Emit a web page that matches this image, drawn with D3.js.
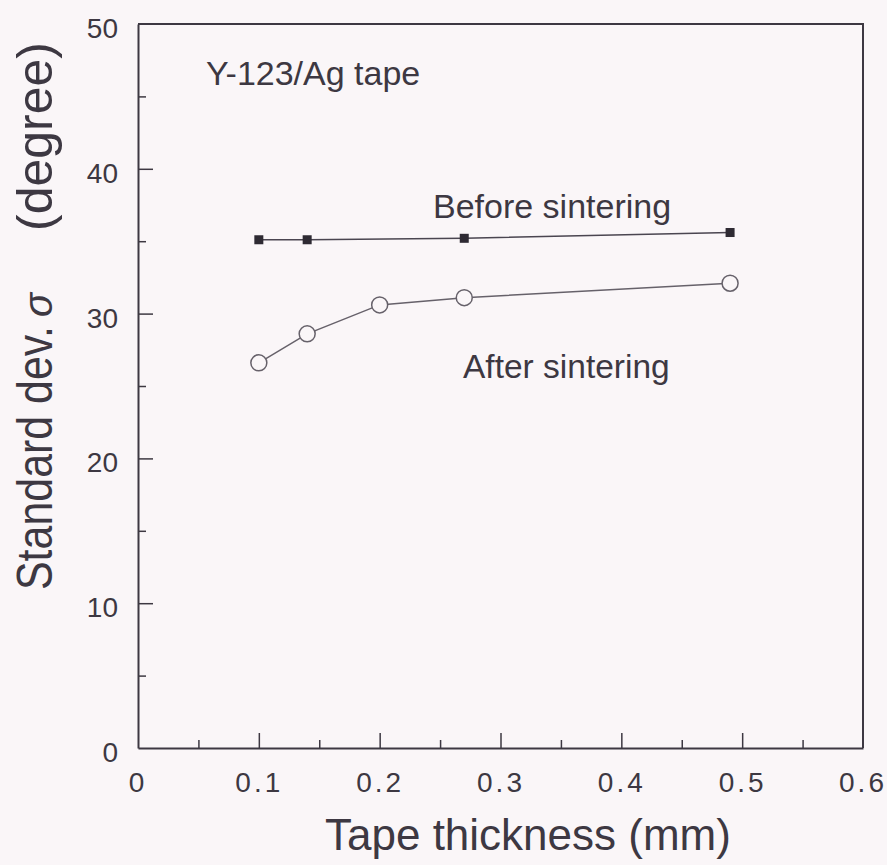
<!DOCTYPE html>
<html>
<head>
<meta charset="utf-8">
<script src="https://cdn.jsdelivr.net/npm/d3@7/dist/d3.min.js"></script>
<style>
  html, body { margin: 0; padding: 0; background: #faf6f8; }
  svg { display: block; font-family: "Liberation Sans", Arial, Helvetica, sans-serif; }
</style>
</head>
<body>
<div id="chart"></div>
<script>
  // ── Data ──────────────────────────────────────────────────────────────────
  const X_TICKS = [0, 0.1, 0.2, 0.3, 0.4, 0.5, 0.6];
  const Y_TICKS = [0, 10, 20, 30, 40, 50];

  const BEFORE_THICKNESS = [0.1, 0.14, 0.27, 0.49];
  const BEFORE_SIGMA     = [35.1, 35.1, 35.2, 35.6];

  const AFTER_THICKNESS  = [0.1, 0.14, 0.2, 0.27, 0.49];
  const AFTER_SIGMA      = [26.6, 28.6, 30.6, 31.1, 32.1];

  // ── Layout ────────────────────────────────────────────────────────────────
  const W = 887, H = 865;
  const M = { left: 138, top: 24, right: 24, bottom: 117 };
  const INK = '#3d3842';

  const svg = d3.select('#chart').append('svg')
    .attr('width', W).attr('height', H);

  const x = d3.scaleLinear().domain([0, 0.6]).range([M.left, W - M.right]);
  const y = d3.scaleLinear().domain([0, 50]).range([H - M.bottom, M.top]);

  // frame (top + right)
  svg.append('path')
    .attr('d', 'M' + x(0) + ',' + y(50) + 'H' + x(0.6) + 'V' + y(0))
    .attr('fill', 'none').attr('stroke', INK).attr('stroke-width', 2);

  // minor ticks
  svg.append('g')
    .attr('transform', 'translate(0,' + y(0) + ')')
    .call(d3.axisBottom(x).tickValues(d3.range(0.05, 0.6, 0.1)).tickSize(-8).tickFormat(''))
    .call(g => g.select('.domain').remove());
  svg.append('g')
    .attr('transform', 'translate(' + x(0) + ',0)')
    .call(d3.axisLeft(y).tickValues(d3.range(5, 50, 10)).tickSize(-8).tickFormat(''))
    .call(g => g.select('.domain').remove());

  // x axis
  const xAxis = svg.append('g')
    .attr('transform', 'translate(0,' + y(0) + ')')
    .call(d3.axisBottom(x).tickValues(X_TICKS.slice(1, -1)).tickSize(-15).tickSizeOuter(0)
      .tickPadding(24).tickFormat(d3.format('.1f')));
  // "0" and "0.6" labels without inner tick marks
  xAxis.selectAll('.tickx-extra')
    .data([X_TICKS[0], X_TICKS[X_TICKS.length - 1]])
    .join('text')
    .attr('x', d => x(d)).attr('y', 24).attr('dy', '0.71em')
    .attr('text-anchor', 'middle')
    .text(d => d === 0 ? '0' : d3.format('.1f')(d));
  xAxis.selectAll('text')
    .attr('font-size', 28).attr('fill', INK)
    .attr('font-family', '"Liberation Sans", Arial, sans-serif')
    .style('letter-spacing', '3px');

  // y axis
  const yAxis = svg.append('g')
    .attr('transform', 'translate(' + x(0) + ',0)')
    .call(d3.axisLeft(y).tickValues(Y_TICKS).tickSize(-15).tickSizeOuter(0).tickPadding(20));
  yAxis.selectAll('.tick').filter(d => d === 0 || d === 50).select('line').remove();
  yAxis.selectAll('text')
    .attr('font-size', 28).attr('fill', INK).attr('dy', '0.48em')
    .attr('font-family', '"Liberation Sans", Arial, sans-serif');

  svg.selectAll('.domain').attr('stroke', INK).attr('stroke-width', 2);
  svg.selectAll('.tick line').attr('stroke', INK).attr('stroke-width', 1.5);

  // ── Series ────────────────────────────────────────────────────────────────
  const line = d3.line().x(d => x(d[0])).y(d => y(d[1]));
  const before = BEFORE_THICKNESS.map((t, i) => [t, BEFORE_SIGMA[i]]);
  const after  = AFTER_THICKNESS.map((t, i) => [t, AFTER_SIGMA[i]]);

  svg.append('path').datum(before).attr('d', line)
    .attr('fill', 'none').attr('stroke', '#4a4550').attr('stroke-width', 1.5);
  svg.append('g').selectAll('rect').data(before).join('rect')
    .attr('x', d => x(d[0]) - 4.5).attr('y', d => y(d[1]) - 4.5)
    .attr('width', 9).attr('height', 9).attr('fill', '#2e2a33');

  svg.append('path').datum(after).attr('d', line)
    .attr('fill', 'none').attr('stroke', '#66616a').attr('stroke-width', 1.5);
  svg.append('g').selectAll('circle').data(after).join('circle')
    .attr('cx', d => x(d[0])).attr('cy', d => y(d[1])).attr('r', 8)
    .attr('fill', '#faf6f8').attr('stroke', '#66616a').attr('stroke-width', 1.5);

  // ── Labels ────────────────────────────────────────────────────────────────
  const lab = (tx, ty, s, fs, anchor) => svg.append('text')
    .attr('x', tx).attr('y', ty).attr('font-size', fs).attr('fill', INK)
    .attr('text-anchor', anchor || 'start').text(s);

  lab(206, 85, 'Y-123/Ag tape', 34);
  lab(433, 218, 'Before sintering', 34);
  lab(463, 378, 'After sintering', 33.5);
  lab(325, 850, 'Tape thickness (mm)', 44);

  // y title in pieces: condensed "Standard dev.", sigma, "(degree)"
  const yt = svg.append('g').attr('transform', 'translate(52,0) rotate(-90)')
    .attr('fill', INK);
  yt.append('text').attr('x', -590).attr('y', 0).attr('font-size', 50)
    .attr('textLength', 264).attr('lengthAdjust', 'spacingAndGlyphs')
    .text('Standard dev.');
  yt.append('text').attr('x', -317).attr('y', 0).attr('font-size', 40)
    .attr('font-style', 'italic').text('\u03c3');
  yt.append('text').attr('x', -42).attr('y', 0).attr('font-size', 50)
    .attr('text-anchor', 'end').text('(degree)');
</script>
</body>
</html>
